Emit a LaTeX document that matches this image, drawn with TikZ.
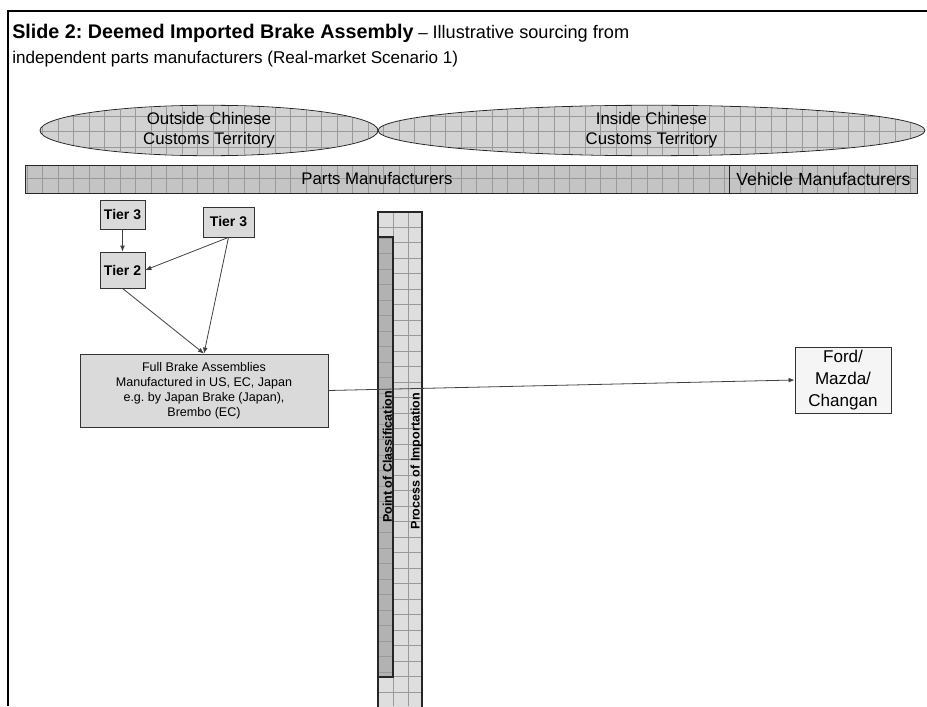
\documentclass[tikz,border=0pt]{standalone}
\usepackage{fontspec}
\setmainfont{Liberation Sans}
\usetikzlibrary{arrows.meta,shapes.geometric}
\frenchspacing

\definecolor{bargray}{HTML}{C4C4C4}
\definecolor{ovalgray}{HTML}{D2D2D2}
\definecolor{lanegray}{HTML}{DEDEDE}
\definecolor{pointgray}{HTML}{B2B2B2}
\definecolor{boxgray}{HTML}{DADADA}
\definecolor{linegray}{HTML}{404040}

\tikzset{
  gridline/.style={draw=black!40, line width=0.4pt},
  oval/.style={ellipse, draw=black!85, line width=0.6pt, inner sep=0pt,
    font=\fontsize{12.6}{15}\selectfont, align=center},
  tierbox/.style={draw=black!80, fill=boxgray, line width=0.6pt, inner sep=0pt,
    font=\fontsize{10.5}{12}\selectfont\bfseries},
  brakebox/.style={draw=black!80, fill=boxgray, line width=0.6pt, inner sep=0pt,
    font=\fontsize{9.4}{11.3}\selectfont, align=center},
  makerbox/.style={draw=black!80, fill=black!4, line width=0.6pt, inner sep=0pt,
    font=\fontsize{12.8}{16.3}\selectfont, align=center},
  titletext/.style={anchor=base west, inner sep=0pt, font=\fontsize{12.8}{18}\selectfont},
  flow/.style={draw=linegray, line width=0.6pt, -{Latex[length=4.5pt,width=3.6pt]}}
}

% grid of a shape, lines start at #1,#2
\newcommand{\shapegrid}[2]{%
  \pgfmathsetmacro{\gxnext}{#1+15.5}%
  \pgfmathsetmacro{\gynext}{#2+15.5}%
  \foreach \gx in {#1,\gxnext,...,927}
    \draw[gridline] (\gx,0) -- (\gx,706);
  \foreach \gy in {#2,\gynext,...,706}
    \draw[gridline] (0,\gy) -- (927,\gy);}

\begin{document}
\begin{tikzpicture}[x=0.75pt,y=-0.75pt]
  \useasboundingbox (0,0) rectangle (927,706);
  % frame
  \draw[line width=1.9pt] (8,706) -- (8,11) -- (927,11);
  % title
  \node[titletext] (title) at (12,39)
    {{\fontsize{14.8}{18}\selectfont\bfseries Slide 2: Deemed Imported Brake Assembly} -- {\fontsize{13.6}{18}\selectfont Illustrative sourcing from}};
  \node[titletext] (subtitle) at (12,64)
    {independent parts manufacturers (Real-market Scenario 1)};
  % customs territories
  \begin{scope}
    \clip (209,130.5) ellipse (169 and 24.5);
    \fill[ovalgray] (40,100) rectangle (380,160);
    \shapegrid{11.7}{7.5}
  \end{scope}
  \begin{scope}
    \clip (651.5,130.5) ellipse (273.5 and 24.5);
    \fill[ovalgray] (370,100) rectangle (927,160);
    \shapegrid{11.7}{7.5}
  \end{scope}
  \node[oval, minimum width=338*0.75pt, minimum height=49*0.75pt] (outside) at (209,130.5)
    {Outside Chinese\\Customs Territory};
  \node[oval, minimum width=547*0.75pt, minimum height=49*0.75pt] (inside) at (651.5,130.5)
    {Inside Chinese\\Customs Territory};
  % manufacturers bar
  \begin{scope}
    \clip (25,165) rectangle (917,193);
    \fill[bargray] (25,165) rectangle (917,193);
    \shapegrid{11.7}{7.5}
  \end{scope}
  \draw[black!85, line width=0.6pt] (25,165) rectangle (917,193);
  \draw[black!85, line width=0.6pt] (729,165) -- (729,193);
  \node[font=\fontsize{12.6}{15}\selectfont] (parts) at (377,179) {Parts Manufacturers};
  \node[font=\fontsize{13.2}{15}\selectfont] (vehicle) at (823.5,179) {Vehicle Manufacturers};
  % importation lane
  \begin{scope}
    \clip (378,212) rectangle (422,710);
    \fill[lanegray] (378,212) rectangle (422,710);
    \shapegrid{5.5}{10}
  \end{scope}
  \draw[black!85, line width=0.9pt] (378,710) -- (378,212) -- (422,212) -- (422,710);
  \begin{scope}
    \clip (378,237) rectangle (393,677);
    \fill[pointgray] (378,237) rectangle (393,677);
    \shapegrid{5.5}{5.5}
  \end{scope}
  \draw[black!85, line width=0.9pt] (378,237) rectangle (393,677);
  \node[rotate=90, font=\fontsize{9.4}{11}\selectfont\bfseries] (classif) at (387.5,457)
    {Point of Classification};
  \node[rotate=90, font=\fontsize{9.4}{11}\selectfont\bfseries] (import) at (416.5,461)
    {Process of Importation};
  % suppliers
  \node[tierbox, minimum width=45*0.75pt, minimum height=29*0.75pt] (tier3a) at (122.5,214.5) {Tier 3};
  \node[tierbox, minimum width=51*0.75pt, minimum height=30*0.75pt] (tier3b) at (228.5,222) {Tier 3};
  \node[tierbox, minimum width=45*0.75pt, minimum height=36*0.75pt] (tier2) at (122.5,270) {Tier 2};
  \node[brakebox, minimum width=248*0.75pt, minimum height=73*0.75pt] (brakes) at (204,390.5)
    {Full Brake Assemblies\\Manufactured in US, EC, Japan\\e.g. by Japan Brake (Japan),\\Brembo (EC)};
  \node[makerbox, minimum width=96*0.75pt, minimum height=66*0.75pt] (ford) at (843,380)
    {Ford/\\Mazda/\\Changan};
  % flows
  \draw[flow] (tier3a) -- (tier2);
  \draw[flow] (tier3b.south) -- (tier2.east);
  \draw[flow] (tier3b.south) -- (brakes.north);
  \draw[flow] (tier2.south) -- (brakes.north);
  \draw[flow] (brakes.east) -- (ford.west);
\end{tikzpicture}
\end{document}
